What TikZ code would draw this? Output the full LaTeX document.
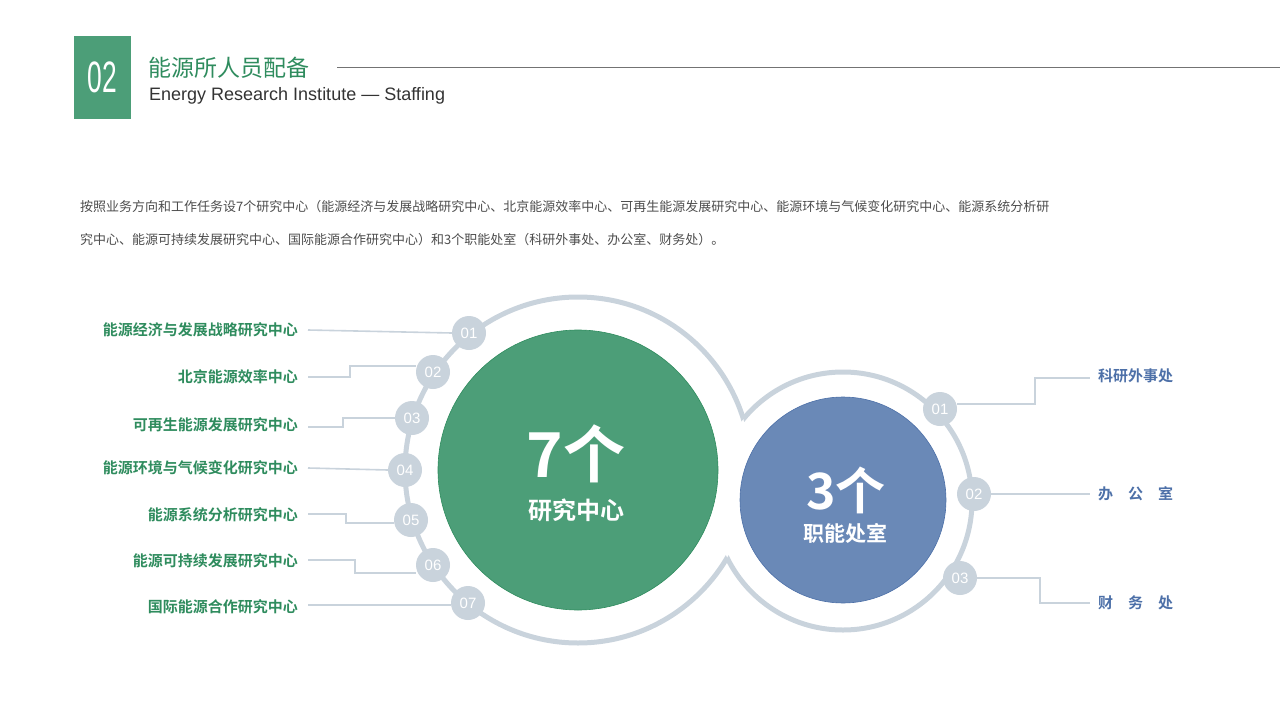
\documentclass[tikz,border=0pt]{standalone}
\usepackage{fontspec}
\setmainfont{Liberation Sans}
\newfontfamily\cjk{Noto Sans CJK SC}
\newfontfamily\cjkb{Noto Sans CJK SC Bold}
\begin{document}
\begin{tikzpicture}[x=1pt,y=-1pt,
  badge/.style={circle,fill=ringgray,text=white,minimum size=34pt,inner sep=0pt,font=\fontsize{15}{15}\selectfont},
  lbl/.style={font=\cjkb\fontsize{15}{15}\selectfont,inner sep=0pt},
  conn/.style={draw=ringgray,line width=1.6pt}]
\definecolor{ringgray}{HTML}{C9D3DC}
\definecolor{mygreen}{HTML}{4C9E78}
\definecolor{txtgreen}{HTML}{2F8C5E}
\definecolor{myblue}{HTML}{6A89B7}
\definecolor{txtblue}{HTML}{4D70A8}
\useasboundingbox (0,0) rectangle (1280,720);
% header
\node[fill=mygreen,minimum width=57pt,minimum height=83pt,inner sep=0pt] (sq) at (102.5,77.5) {};
\node[text=white,font=\fontsize{44}{44}\selectfont\addfontfeature{FakeStretch=0.6}] at (sq) {02};
\node[anchor=west,inner sep=0pt,text=txtgreen,font=\cjk\fontsize{23}{23}\selectfont] (title) at (148,68) {能源所人员配备};
\node[anchor=west,inner sep=0pt,text=black!80,font=\fontsize{18}{18}\selectfont] (sub) at (149,96) {Energy Research Institute — Staffing};
\coordinate (l1) at (337,67); \coordinate (l2) at (1280,67);
\draw[black!55,line width=0.8pt] (l1) -- (l2);
% paragraph
\node[anchor=west,inner sep=0pt,text=black!70,font=\cjk\fontsize{13}{13}\selectfont] (p1) at (80,207) {按照业务方向和工作任务设7个研究中心（能源经济与发展战略研究中心、北京能源效率中心、可再生能源发展研究中心、能源环境与气候变化研究中心、能源系统分析研};
\node[anchor=west,inner sep=0pt,text=black!70,font=\cjk\fontsize{13}{13}\selectfont] (p2) at (80,240) {究中心、能源可持续发展研究中心、国际能源合作研究中心）和3个职能处室（科研外事处、办公室、财务处）。};
% rings
\begin{scope}
\clip (0,0) rectangle (1280,720) (843,501) circle (129);
\draw[ringgray,line width=5pt] (578,470) circle (173);
\end{scope}
\begin{scope}
\clip (0,0) rectangle (1280,720) (578,470) circle (173);
\draw[ringgray,line width=5pt] (843,501) circle (129);
\end{scope}
\node[circle,fill=mygreen,draw=txtgreen,line width=0.6pt,minimum size=280pt,inner sep=0pt] (G) at (578,470) {};
\node[circle,fill=myblue,draw=txtblue,line width=0.6pt,minimum size=206pt,inner sep=0pt] (B) at (843,500) {};
\node[text=white,font=\cjkb\fontsize{62}{62}\selectfont,inner sep=0pt] (g1) at (576,454) {7个};
\node[text=white,font=\cjkb\fontsize{24}{24}\selectfont,inner sep=0pt] (g2) at (576,510) {研究中心};
\node[text=white,font=\cjkb\fontsize{50}{50}\selectfont,inner sep=0pt] (b1) at (846,490) {3个};
\node[text=white,font=\cjkb\fontsize{21}{21}\selectfont,inner sep=0pt] (b2) at (845,533) {职能处室};
% left badges
\node[badge] (L1) at (469,333) {01};
\node[badge] (L2) at (433,372) {02};
\node[badge] (L3) at (412,418) {03};
\node[badge] (L4) at (405,470) {04};
\node[badge] (L5) at (411,520) {05};
\node[badge] (L6) at (433,565) {06};
\node[badge] (L7) at (468,603) {07};
% left labels
\foreach \n/\y/\t in {1/330/能源经济与发展战略研究中心,2/377/北京能源效率中心,3/425/可再生能源发展研究中心,4/468/能源环境与气候变化研究中心,5/515/能源系统分析研究中心,6/561/能源可持续发展研究中心,7/607/国际能源合作研究中心}
  \node[lbl,text=txtgreen,anchor=east] (T\n) at (298,\y) {\t};
\draw[conn] (308,330) coordinate (a1) -- (L1.west);
\draw[conn] (308,377) -- (350,377) -- (350,366) -- (L2.west|-0,366);
\draw[conn] (308,427) -- (343,427) -- (343,418) -- (L3.west);
\draw[conn] (308,468) -- (L4.west);
\draw[conn] (308,514) -- (346,514) -- (346,523) -- (L5.west|-0,523);
\draw[conn] (308,560) -- (355,560) -- (355,573) -- (L6.west|-0,573);
\draw[conn] (308,605) -- (L7.west|-0,605);
% right badges
\node[badge] (R1) at (940,409) {01};
\node[badge] (R2) at (974,494) {02};
\node[badge] (R3) at (960,578) {03};
\node[lbl,text=txtblue,anchor=west] (S1) at (1098,376) {科研外事处};
\node[lbl,text=txtblue,anchor=west] (S2) at (1098,494) {办\hspace{15pt}公\hspace{15pt}室};
\node[lbl,text=txtblue,anchor=west] (S3) at (1098,603) {财\hspace{15pt}务\hspace{15pt}处};
\draw[conn] (R1.east|-0,404) -- (1035,404) -- (1035,378) -- (1090,378);
\draw[conn] (R2.east) -- (1090,494);
\draw[conn] (R3.east) -- (1040,578) -- (1040,603) -- (1090,603);
\end{tikzpicture}
\end{document}
